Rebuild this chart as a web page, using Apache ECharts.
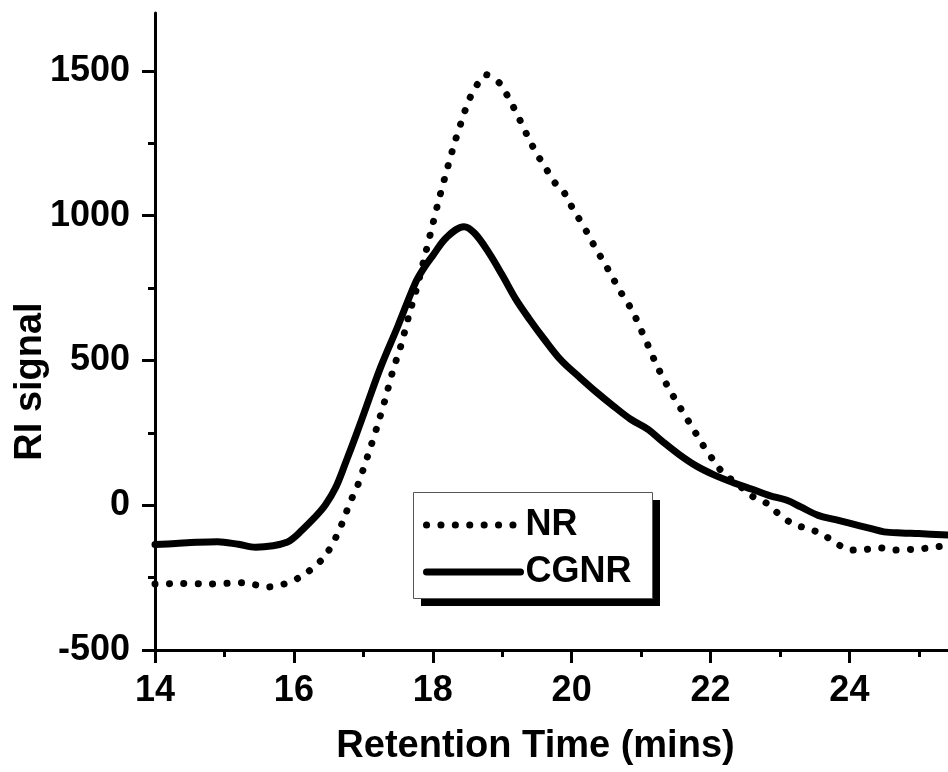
<!DOCTYPE html>
<html>
<head>
<meta charset="utf-8">
<script src="https://cdn.jsdelivr.net/npm/echarts@6/dist/echarts.min.js"></script>
<style>
  html, body { margin: 0; padding: 0; background: #fff; }
  #chart { width: 948px; height: 772px; }
</style>
</head>
<body>
<div id="chart"></div>
<script>
// GPC traces: refractive-index detector signal vs. retention time
const nrTime = [14.0, 14.4, 14.8, 15.25, 15.65, 15.86, 16.06, 16.27, 16.45, 16.58, 16.67, 16.75, 16.83, 16.92,
  17.06, 17.19, 17.31, 17.42, 17.55, 17.66, 17.78, 17.88, 17.98, 18.08, 18.19, 18.31, 18.44, 18.51, 18.61,
  18.77, 18.96, 19.09, 19.19, 19.29, 19.39, 19.5, 19.63, 19.76, 19.87, 19.98, 20.1, 20.22, 20.33, 20.45,
  20.57, 20.68, 20.81, 20.92, 21.01, 21.1, 21.19, 21.29, 21.4, 21.52, 21.64, 21.77, 21.89, 22.03, 22.18,
  22.38, 22.58, 22.8, 23.0, 23.2, 23.4, 23.62, 23.81, 24.02, 24.23, 24.44, 24.64, 24.84, 25.05, 25.25, 25.42];
const nrSignal = [-272, -270, -272, -268, -282, -272, -252, -218, -176, -123, -77, -27, 21, 69,
  168, 265, 362, 460, 558, 659, 759, 855, 951, 1048, 1146, 1248, 1345, 1393, 1442,
  1487, 1458, 1408, 1362, 1313, 1262, 1213, 1163, 1113, 1089, 1040, 992, 943, 894, 845,
  796, 746, 698, 649, 600, 552, 502, 452, 403, 354, 307, 256, 208, 159, 111,
  75, 34, 8, -34, -67, -80, -101, -132, -155, -153, -147, -155, -153, -150, -144, -138];

const cgnrTime = [14.0, 14.3, 14.6, 14.9, 15.2, 15.45, 15.7, 15.9, 16.0, 16.1, 16.3, 16.45, 16.6, 16.75,
  16.9, 17.05, 17.25, 17.5, 17.75, 17.87, 18.0, 18.2, 18.45, 18.6, 18.8, 19.0, 19.2, 19.4, 19.6, 19.85,
  20.1, 20.35, 20.6, 20.85, 21.1, 21.3, 21.55, 21.8, 22.05, 22.35, 22.6, 22.85, 23.1, 23.3, 23.55, 23.8,
  24.0, 24.3, 24.5, 24.75, 25.0, 25.42];
const cgnrSignal = [-136, -132, -128, -126, -135, -145, -140, -128, -112, -90, -42, 0, 60, 150,
  245, 345, 477, 620, 768, 818, 862, 925, 962, 940, 875, 795, 710, 640, 575, 500,
  445, 392, 343, 297, 262, 222, 175, 135, 105, 76, 55, 33, 17, -6, -35, -50,
  -62, -80, -92, -96, -98, -103];

const xTicks = [14, 16, 18, 20, 22, 24];
const yTicks = [-500, 0, 500, 1000, 1500];

const seriesNames = ['NR', 'CGNR'];

const pairs = (xs, ys) => xs.map((x, i) => [x, ys[i]]);

const FONT = '"Liberation Sans", Arial, sans-serif';
const dotStyle = { color: '#000', width: 7, type: [0.1, 14.3], cap: 'round' };
const solidStyle = { color: '#000', width: 7, type: 'solid', cap: 'round', join: 'round' };

// legend frame with a hard drop shadow
const legendBox = { x: 413, y: 492, w: 239, h: 106, shadow: 8 };

const chart = echarts.init(document.getElementById('chart'), null, { renderer: 'canvas' });

const axisCommon = {
  axisLine: { show: true, onZero: false, lineStyle: { color: '#000', width: 3 } },
  axisTick: { show: true, inside: false, length: 13, lineStyle: { color: '#000', width: 3 } },
  minorTick: { show: true, splitNumber: 2, length: 7, lineStyle: { color: '#000', width: 3 } },
  splitLine: { show: false },
  minorSplitLine: { show: false },
  nameMoveOverlap: false
};

chart.setOption({
  backgroundColor: '#fff',
  animation: false,
  grid: { left: 155, right: 0, top: 13, bottom: 122, containLabel: false, outerBoundsMode: 'none' },
  xAxis: Object.assign({}, axisCommon, {
    type: 'value',
    min: 14, max: 25.42, interval: 2,
    axisTick: Object.assign({}, axisCommon.axisTick, { customValues: xTicks }),
    axisLabel: {
      customValues: xTicks, margin: 23,
      color: '#000', fontFamily: FONT, fontWeight: 'bold', fontSize: 36
    },
    name: 'Retention Time (mins)',
    nameLocation: 'middle',
    nameGap: 78,
    nameTextStyle: { color: '#000', fontFamily: FONT, fontWeight: 'bold', fontSize: 38, padding: [0, 32, 0, 0] }
  }),
  yAxis: Object.assign({}, axisCommon, {
    type: 'value',
    min: -500, max: 1700, interval: 500,
    axisTick: Object.assign({}, axisCommon.axisTick, { customValues: yTicks }),
    axisLabel: {
      customValues: yTicks, margin: 25,
      formatter: (v) => String(v),
      color: '#000', fontFamily: FONT, fontWeight: 'bold', fontSize: 36
    },
    name: 'RI signal',
    nameLocation: 'middle',
    nameGap: 105,
    nameTextStyle: { color: '#000', fontFamily: FONT, fontWeight: 'bold', fontSize: 38, padding: [0, 100, 0, 0] }
  }),
  graphic: [
    {
      type: 'rect', z: 5, silent: true,
      shape: { x: legendBox.x + legendBox.shadow, y: legendBox.y + legendBox.shadow, width: legendBox.w, height: legendBox.h },
      style: { fill: '#000' }
    },
    {
      type: 'rect', z: 6, silent: true,
      shape: { x: legendBox.x + 0.5, y: legendBox.y + 0.5, width: legendBox.w, height: legendBox.h },
      style: { fill: '#fff', stroke: '#555', lineWidth: 1 }
    }
  ],
  legend: {
    z: 10,
    orient: 'vertical',
    left: legendBox.x, top: legendBox.y,
    align: 'left',
    padding: [15, 20, 8, 10],
    itemGap: 11,
    itemWidth: 94,
    itemHeight: 36,
    backgroundColor: 'transparent',
    borderWidth: 0,
    selectedMode: false,
    textStyle: { color: '#000', fontFamily: FONT, fontWeight: 'bold', fontSize: 36, lineHeight: 36 },
    data: [
      { name: seriesNames[0], lineStyle: dotStyle, itemStyle: { opacity: 0 } },
      { name: seriesNames[1], lineStyle: solidStyle, itemStyle: { opacity: 0 } }
    ]
  },
  series: [
    {
      name: seriesNames[0], type: 'line', symbol: 'none', smooth: 0.2,
      data: pairs(nrTime, nrSignal), lineStyle: dotStyle, itemStyle: { color: '#000' },
      clip: true
    },
    {
      name: seriesNames[1], type: 'line', symbol: 'none', smooth: 0.35,
      data: pairs(cgnrTime, cgnrSignal), lineStyle: solidStyle, itemStyle: { color: '#000' },
      clip: true
    }
  ]
});
</script>
</body>
</html>
